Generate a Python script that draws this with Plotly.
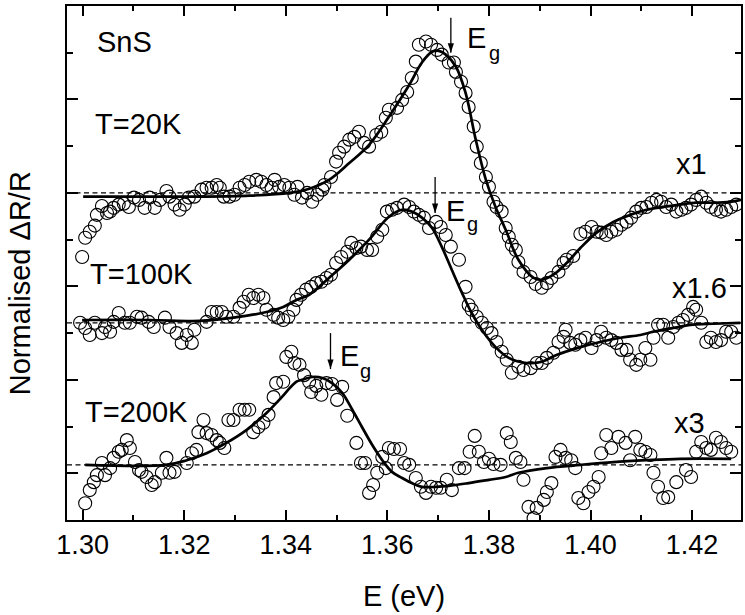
import plotly.graph_objects as go

# ---- SnS photoreflectance spectra (normalised, offset for clarity) ----
energy_20K = [1.2999, 1.3005, 1.3014, 1.3024, 1.3028, 1.3038, 1.3048, 1.3054, 1.3061, 1.3071,
              1.3081, 1.3091, 1.3101, 1.3111, 1.3122, 1.3132, 1.3142, 1.3152, 1.3165, 1.3171,
              1.3181, 1.3191, 1.3201, 1.3209, 1.3220, 1.3234, 1.3244, 1.3254, 1.3264, 1.3270,
              1.3278, 1.3289, 1.3299, 1.3309, 1.3319, 1.3328, 1.3342, 1.3352, 1.3362, 1.3372,
              1.3378, 1.3387, 1.3397, 1.3407, 1.3417, 1.3423, 1.3432, 1.3442, 1.3452, 1.3462,
              1.3472, 1.3476, 1.3489, 1.3499, 1.3505, 1.3515, 1.3525, 1.3535, 1.3544, 1.3554,
              1.3564, 1.3578, 1.3588, 1.3597, 1.3603, 1.3619, 1.3629, 1.3639, 1.3648, 1.3656,
              1.3662, 1.3676, 1.3686, 1.3698, 1.3707, 1.3721, 1.3731, 1.3735, 1.3745, 1.3754,
              1.3760, 1.3770, 1.3776, 1.3784, 1.3794, 1.3800, 1.3809, 1.3815, 1.3825, 1.3833,
              1.3839, 1.3845, 1.3853, 1.3858, 1.3868, 1.3882, 1.3892, 1.3904, 1.3914, 1.3923,
              1.3937, 1.3947, 1.3953, 1.3966, 1.3980, 1.3990, 1.4002, 1.4012, 1.4021, 1.4031,
              1.4041, 1.4051, 1.4061, 1.4071, 1.4080, 1.4090, 1.4100, 1.4110, 1.4120, 1.4130,
              1.4139, 1.4149, 1.4159, 1.4169, 1.4179, 1.4188, 1.4198, 1.4208, 1.4218, 1.4228,
              1.4237, 1.4247, 1.4257, 1.4267, 1.4277, 1.4287]
signal_20K = [5.63, 6.04, 6.17, 6.30, 6.53, 6.72, 6.57, 6.60, 6.68, 6.75,
              6.77, 6.70, 6.90, 6.85, 6.68, 6.90, 6.68, 6.85, 7.04, 6.92,
              6.75, 6.64, 6.75, 6.90, 6.92, 7.07, 7.11, 7.11, 7.17, 7.11,
              6.92, 6.92, 6.96, 7.11, 7.17, 7.24, 7.28, 7.24, 7.17, 7.11,
              7.28, 7.13, 7.17, 7.11, 6.96, 7.13, 6.90, 7.00, 6.81, 6.96,
              7.07, 7.17, 7.34, 7.67, 7.86, 7.99, 8.14, 8.20, 8.31, 8.07,
              7.99, 8.24, 8.31, 8.61, 8.78, 8.82, 8.99, 9.16, 9.46, 9.81,
              10.17, 10.24, 10.17, 10.06, 9.96, 9.79, 9.79, 9.59, 9.38, 9.14,
              8.84, 8.42, 7.99, 7.64, 7.34, 7.13, 6.81, 6.70, 6.60, 6.25,
              6.06, 5.89, 5.78, 5.52, 5.31, 5.20, 5.05, 4.97, 5.07, 5.18,
              5.31, 5.50, 5.57, 5.65, 6.12, 6.17, 6.27, 6.17, 6.15, 6.10,
              6.17, 6.21, 6.32, 6.38, 6.47, 6.60, 6.68, 6.70, 6.79, 6.85,
              6.81, 6.70, 6.75, 6.60, 6.64, 6.68, 6.75, 6.85, 6.92, 6.79,
              6.70, 6.64, 6.60, 6.64, 6.70, 6.75]

energy_100K = [1.2995, 1.3005, 1.3014, 1.3024, 1.3038, 1.3044, 1.3054, 1.3061, 1.3071, 1.3083,
               1.3093, 1.3107, 1.3116, 1.3130, 1.3140, 1.3162, 1.3171, 1.3185, 1.3195, 1.3205,
               1.3215, 1.3220, 1.3244, 1.3254, 1.3264, 1.3274, 1.3283, 1.3297, 1.3309, 1.3317,
               1.3327, 1.3336, 1.3346, 1.3356, 1.3362, 1.3376, 1.3385, 1.3395, 1.3405, 1.3415,
               1.3421, 1.3430, 1.3440, 1.3450, 1.3460, 1.3470, 1.3480, 1.3489, 1.3499, 1.3509,
               1.3521, 1.3529, 1.3539, 1.3548, 1.3560, 1.3570, 1.3580, 1.3590, 1.3599, 1.3609,
               1.3619, 1.3633, 1.3643, 1.3652, 1.3662, 1.3672, 1.3682, 1.3696, 1.3705, 1.3715,
               1.3725, 1.3741, 1.3754, 1.3760, 1.3766, 1.3776, 1.3786, 1.3796, 1.3805, 1.3815,
               1.3825, 1.3835, 1.3845, 1.3858, 1.3868, 1.3882, 1.3894, 1.3904, 1.3914, 1.3927,
               1.3937, 1.3947, 1.3951, 1.3960, 1.3970, 1.3980, 1.3990, 1.4002, 1.4012, 1.4021,
               1.4031, 1.4041, 1.4051, 1.4061, 1.4071, 1.4078, 1.4090, 1.4098, 1.4108, 1.4118,
               1.4124, 1.4133, 1.4143, 1.4153, 1.4163, 1.4173, 1.4182, 1.4192, 1.4202, 1.4208,
               1.4218, 1.4228, 1.4237, 1.4247, 1.4257, 1.4267, 1.4277, 1.4287]
signal_100K = [4.22, 4.11, 3.96, 4.22, 4.00, 4.13, 4.03, 4.24, 4.43, 4.22,
               4.22, 4.35, 4.33, 4.24, 4.13, 4.33, 4.13, 4.00, 3.79, 3.96,
               3.79, 4.07, 4.24, 4.45, 4.45, 4.45, 4.35, 4.35, 4.54, 4.67,
               4.82, 4.75, 4.82, 4.75, 4.50, 4.39, 4.33, 4.28, 4.35, 4.50,
               4.71, 4.82, 4.93, 4.99, 5.07, 5.10, 5.18, 5.25, 5.50, 5.63,
               5.74, 5.93, 5.82, 5.85, 5.78, 5.78, 6.06, 6.21, 6.60, 6.64,
               6.68, 6.75, 6.70, 6.60, 6.53, 6.47, 6.25, 6.38, 6.27, 6.10,
               5.85, 5.57, 4.99, 4.60, 4.50, 4.35, 4.22, 4.11, 4.00, 3.81,
               3.60, 3.43, 3.15, 3.28, 3.21, 3.25, 3.36, 3.36, 3.47, 3.58,
               3.81, 3.92, 4.07, 3.79, 3.75, 3.85, 3.90, 3.68, 3.85, 4.03,
               3.90, 3.85, 3.79, 3.64, 3.64, 3.43, 3.32, 3.43, 3.68, 3.43,
               3.90, 4.18, 4.18, 3.90, 4.13, 4.22, 4.28, 4.39, 4.56, 4.50,
               4.22, 3.81, 3.90, 3.81, 3.85, 4.03, 4.03, 3.90]

energy_200K = [1.3005, 1.3014, 1.3022, 1.3028, 1.3038, 1.3044, 1.3054, 1.3061, 1.3071, 1.3077,
               1.3087, 1.3093, 1.3103, 1.3111, 1.3116, 1.3126, 1.3136, 1.3142, 1.3156, 1.3165,
               1.3171, 1.3181, 1.3205, 1.3215, 1.3224, 1.3228, 1.3238, 1.3244, 1.3254, 1.3264,
               1.3270, 1.3279, 1.3287, 1.3297, 1.3309, 1.3319, 1.3328, 1.3336, 1.3346, 1.3356,
               1.3366, 1.3376, 1.3381, 1.3395, 1.3401, 1.3411, 1.3417, 1.3427, 1.3436, 1.3446,
               1.3450, 1.3460, 1.3470, 1.3480, 1.3491, 1.3501, 1.3511, 1.3521, 1.3539, 1.3548,
               1.3556, 1.3564, 1.3572, 1.3580, 1.3590, 1.3597, 1.3603, 1.3613, 1.3625, 1.3633,
               1.3643, 1.3656, 1.3666, 1.3676, 1.3686, 1.3696, 1.3705, 1.3717, 1.3727, 1.3741,
               1.3752, 1.3762, 1.3772, 1.3780, 1.3790, 1.3800, 1.3809, 1.3823, 1.3835, 1.3843,
               1.3853, 1.3862, 1.3868, 1.3878, 1.3888, 1.3894, 1.3908, 1.3914, 1.3923, 1.3931,
               1.3941, 1.3951, 1.3962, 1.3970, 1.3976, 1.3986, 1.3996, 1.4006, 1.4016, 1.4021,
               1.4031, 1.4041, 1.4055, 1.4069, 1.4078, 1.4088, 1.4098, 1.4108, 1.4118, 1.4124,
               1.4133, 1.4143, 1.4153, 1.4169, 1.4188, 1.4198, 1.4208, 1.4218, 1.4228, 1.4237,
               1.4247, 1.4257, 1.4267, 1.4277]
signal_200K = [0.36, 0.64, 0.81, 0.96, 1.22, 0.96, 1.11, 1.33, 1.46, 1.50,
               1.71, 1.54, 1.24, 1.07, 1.03, 0.92, 0.75, 0.81, 1.01, 1.33,
               1.01, 1.03, 1.22, 1.43, 1.50, 1.88, 2.14, 1.86, 1.82, 1.71,
               1.65, 1.54, 2.14, 2.14, 2.36, 2.36, 2.36, 1.88, 1.99, 2.08,
               2.25, 2.63, 2.93, 2.96, 3.49, 3.60, 3.36, 3.32, 3.10, 2.96,
               2.74, 2.87, 2.68, 2.93, 2.91, 2.57, 2.85, 2.23, 1.65, 1.22,
               1.22, 0.58, 0.75, 1.01, 1.35, 1.11, 1.54, 1.52, 1.52, 1.22,
               1.18, 0.90, 0.71, 0.58, 0.71, 0.69, 0.69, 0.86, 0.64, 1.11,
               1.11, 1.46, 1.80, 1.46, 1.24, 1.31, 1.20, 1.18, 1.86, 1.67,
               1.33, 1.24, 0.86, 0.28, 0.04, 0.26, 0.43, 0.60, 0.79, 1.35,
               1.50, 1.33, 1.28, 1.11, 0.47, 0.36, 0.60, 0.71, 0.92, 1.43,
               1.82, 1.54, 1.78, 1.65, 1.28, 1.78, 1.50, 1.46, 1.39, 1.01,
               0.71, 0.47, 0.49, 0.81, 1.07, 0.92, 1.46, 1.67, 1.54, 1.50,
               1.76, 1.67, 1.54, 1.46]

# ---- line-shape fits ----
fit_energy_20K = [1.3001, 1.3132, 1.3230, 1.3328, 1.3407, 1.3446, 1.3485, 1.3525, 1.3564, 1.3603,
                  1.3643, 1.3668, 1.3688, 1.3701, 1.3715, 1.3735, 1.3754, 1.3774, 1.3794, 1.3813,
                  1.3833, 1.3858, 1.3888, 1.3904, 1.3927, 1.3953, 1.3980, 1.4012, 1.4045, 1.4078,
                  1.4110, 1.4143, 1.4176, 1.4208, 1.4241, 1.4275, 1.4296]
fit_20K = [6.92, 6.92, 6.92, 6.94, 7.00, 7.09, 7.28, 7.64, 8.03, 8.63,
           9.31, 9.79, 10.02, 10.04, 9.96, 9.70, 9.14, 8.14, 7.28, 6.70,
           6.21, 5.57, 5.18, 5.14, 5.25, 5.50, 5.82, 6.15, 6.38, 6.53,
           6.64, 6.70, 6.75, 6.79, 6.79, 6.81, 6.85]

fit_energy_100K = [1.2999, 1.3132, 1.3230, 1.3297, 1.3362, 1.3395, 1.3421, 1.3446, 1.3485, 1.3525,
                   1.3564, 1.3603, 1.3629, 1.3648, 1.3668, 1.3688, 1.3707, 1.3727, 1.3747, 1.3766,
                   1.3786, 1.3813, 1.3839, 1.3874, 1.3902, 1.3933, 1.3980, 1.4019, 1.4059, 1.4098,
                   1.4124, 1.4163, 1.4202, 1.4241, 1.4295]
fit_100K = [4.28, 4.28, 4.26, 4.33, 4.45, 4.56, 4.71, 4.82, 5.18, 5.57,
            6.00, 6.49, 6.64, 6.60, 6.47, 6.25, 5.85, 5.35, 4.86, 4.43,
            4.07, 3.70, 3.47, 3.36, 3.38, 3.53, 3.70, 3.81, 3.90, 3.96,
            4.03, 4.11, 4.18, 4.20, 4.22]

fit_energy_200K = [1.3005, 1.3165, 1.3205, 1.3244, 1.3283, 1.3323, 1.3362, 1.3387, 1.3421, 1.3432,
                   1.3452, 1.3472, 1.3491, 1.3511, 1.3531, 1.3550, 1.3570, 1.3590, 1.3609, 1.3629,
                   1.3648, 1.3668, 1.3696, 1.3721, 1.3760, 1.3800, 1.3833, 1.3858, 1.3914, 1.3980,
                   1.4045, 1.4110, 1.4176, 1.4277]
fit_200K = [1.18, 1.18, 1.28, 1.43, 1.65, 1.93, 2.29, 2.57, 2.96, 3.00,
            3.06, 3.04, 2.93, 2.72, 2.36, 1.99, 1.61, 1.28, 1.03, 0.90,
            0.79, 0.71, 0.71, 0.73, 0.79, 0.86, 0.92, 1.01, 1.11, 1.18,
            1.24, 1.28, 1.31, 1.31]

# zero level of each offset spectrum
baselines = [7.00, 4.22, 1.18]

# band-gap positions (eV) and arrow spans (y, tail -> head)
eg_energy = [1.3725, 1.3694, 1.3488]
eg_arrow_tail = [10.75, 7.34, 4.00]
eg_arrow_head = [10.00, 6.57, 3.23]
# "E" and subscript "g" label positions
eg_E_x = [1.3753, 1.3711, 1.3503]
eg_E_y = [10.32, 6.62, 3.51]
eg_g_x = [1.3796, 1.3752, 1.3542]
eg_g_y = [10.00, 6.34, 3.19]

temp_labels = ["T=20K", "T=100K", "T=200K"]
temp_label_x = [1.3020, 1.3010, 1.3001]
temp_label_y = [8.48, 5.27, 2.31]

scale_labels = ["x1", "x1.6", "x3"]
scale_label_x = [1.4234, 1.4273, 1.4230]
scale_label_y = [7.62, 4.97, 2.08]

FONT = "Liberation Sans, Arial, sans-serif"

fig = go.Figure()

series = [(energy_20K, signal_20K, fit_energy_20K, fit_20K),
          (energy_100K, signal_100K, fit_energy_100K, fit_100K),
          (energy_200K, signal_200K, fit_energy_200K, fit_200K)]

for ex, ey, fx, fy in series:
    fig.add_trace(go.Scatter(
        x=ex, y=ey, mode="markers",
        marker=dict(symbol="circle-open", size=13, color="black",
                    line=dict(color="black", width=1.1)),
        showlegend=False, hoverinfo="skip"))
    fig.add_trace(go.Scatter(
        x=fx, y=fy, mode="lines",
        line=dict(color="black", width=2.7, shape="spline", smoothing=1.0),
        showlegend=False, hoverinfo="skip"))

# dashed zero lines
for b in baselines:
    fig.add_shape(type="line", xref="paper", x0=0, x1=1, yref="y", y0=b, y1=b,
                  line=dict(color="black", width=1.2, dash="5px,3.5px"), layer="below")

# band-gap arrows: stem plus arrow head pointing down at the gap energy
for xe, yt, yh in zip(eg_energy, eg_arrow_tail, eg_arrow_head):
    fig.add_trace(go.Scatter(
        x=[xe, xe], y=[yt, yh], mode="lines",
        line=dict(color="black", width=1.3),
        showlegend=False, hoverinfo="skip"))
    fig.add_trace(go.Scatter(
        x=[xe], y=[yh], mode="markers",
        marker=dict(symbol="arrow", angle=180, size=10, color="black",
                    line=dict(width=0)),
        showlegend=False, hoverinfo="skip"))

annotations = []
for ex_, ey_, gx_, gy_ in zip(eg_E_x, eg_E_y, eg_g_x, eg_g_y):
    annotations.append(dict(x=ex_, y=ey_, xref="x", yref="y", text="E",
                            showarrow=False, xanchor="left", yanchor="middle",
                            font=dict(family=FONT, size=29, color="black")))
    annotations.append(dict(x=gx_, y=gy_, xref="x", yref="y", text="g",
                            showarrow=False, xanchor="left", yanchor="middle",
                            font=dict(family=FONT, size=20, color="black")))

annotations.append(dict(x=1.3024, y=10.24, xref="x", yref="y", text="SnS", showarrow=False,
                        xanchor="left", yanchor="middle",
                        font=dict(family=FONT, size=29, color="black")))
for t, lx, ly in zip(temp_labels, temp_label_x, temp_label_y):
    annotations.append(dict(x=lx, y=ly, xref="x", yref="y", text=t, showarrow=False,
                            xanchor="left", yanchor="middle",
                            font=dict(family=FONT, size=29, color="black")))
for t, lx, ly in zip(scale_labels, scale_label_x, scale_label_y):
    annotations.append(dict(x=lx, y=ly, xref="x", yref="y", text=t, showarrow=False,
                            xanchor="right", yanchor="middle",
                            font=dict(family=FONT, size=29, color="black")))

# vertical axis title
annotations.append(dict(x=-0.0695, y=0.461, xref="paper", yref="paper",
                        text="Normalised \u0394R/R", textangle=-90, showarrow=False,
                        xanchor="center", yanchor="middle",
                        font=dict(family=FONT, size=29, color="black")))

fig.update_layout(
    width=745, height=615,
    margin=dict(l=67, r=2, t=6, b=95),
    paper_bgcolor="white", plot_bgcolor="white",
    font=dict(family=FONT, color="black"),
    annotations=annotations,
    showlegend=False,
)

fig.update_xaxes(
    range=[1.29692, 1.42963], showgrid=False, zeroline=False,
    showline=True, linecolor="black", linewidth=2, mirror="allticks",
    ticks="inside", ticklen=10, tickwidth=2, tickcolor="black",
    tick0=1.30, dtick=0.02, tickformat=".2f",
    tickfont=dict(family=FONT, size=27, color="black"),
    minor=dict(ticks="inside", ticklen=5, tickwidth=2, tickcolor="black", dtick=0.01, tick0=1.30),
    title=dict(text="E (eV)", font=dict(family=FONT, size=29, color="black"), standoff=26),
)
fig.update_yaxes(
    range=[0, 11], showgrid=False, zeroline=False,
    showline=True, linecolor="black", linewidth=2, mirror="allticks",
    ticks="inside", ticklen=11, tickwidth=2, tickcolor="black",
    tick0=1, dtick=2, showticklabels=False,
    minor=dict(ticks="inside", ticklen=6, tickwidth=2, tickcolor="black", dtick=1, tick0=0),
)

fig.write_html("out.html")
